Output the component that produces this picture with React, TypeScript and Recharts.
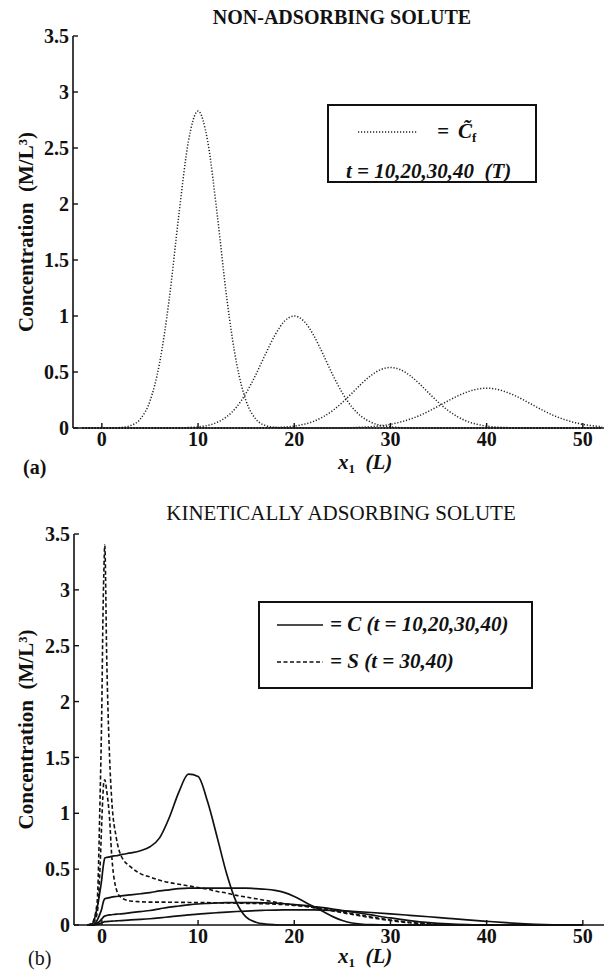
import React from "react";
import { LineChart, Line, XAxis, YAxis } from "recharts";

const FONT = '"Liberation Serif", "Times New Roman", Times, "Nimbus Roman", "DejaVu Serif", serif';
const INK = "#111";

const xTicks = [0, 10, 20, 30, 40, 50];
const yTicks = [0, 0.5, 1, 1.5, 2, 2.5, 3, 3.5];

// (a) non-adsorbing solute, C~f at t = 10, 20, 30, 40
const xA = [
  -2, -1, 0, 1, 2, 3, 4, 5, 6, 7, 8, 9, 10, 11, 12, 13, 14, 15, 16, 17, 18, 19, 20,
  21, 22, 23, 24, 25, 26, 27, 28, 29, 30, 31, 32, 33, 34, 35, 36, 37, 38, 39, 40,
  41, 42, 43, 44, 45, 46, 47, 48, 49, 50, 51, 52,
];
const cf10 = [
  0, 0, 0, 0.001, 0.005, 0.022, 0.08, 0.24, 0.58, 1.15, 1.9, 2.56, 2.83,
  2.56, 1.9, 1.15, 0.58, 0.24, 0.08, 0.022, 0.005, 0.001,
  0, 0, 0, 0, 0, 0, 0, 0, 0, 0, 0, 0, 0, 0, 0, 0, 0, 0, 0, 0, 0, 0, 0, 0, 0, 0, 0, 0, 0, 0, 0, 0, 0,
];
const cf20 = [
  0, 0, 0, 0, 0, 0, 0, 0, 0, 0,
  0.001, 0.004, 0.01, 0.023, 0.051, 0.102, 0.187, 0.313, 0.475, 0.658, 0.83, 0.955, 1.0,
  0.955, 0.83, 0.658, 0.475, 0.313, 0.187, 0.102, 0.051, 0.023, 0.01, 0.004, 0.001,
  0, 0, 0, 0, 0, 0, 0, 0, 0, 0, 0, 0, 0, 0, 0, 0, 0, 0, 0, 0,
];
const cf30 = [
  0, 0, 0, 0, 0, 0, 0, 0, 0, 0, 0, 0, 0, 0, 0, 0, 0, 0,
  0.001, 0.002, 0.004, 0.008, 0.017, 0.033, 0.059, 0.1, 0.156, 0.228, 0.311, 0.396, 0.47, 0.522, 0.54,
  0.522, 0.47, 0.396, 0.311, 0.228, 0.156, 0.1, 0.059, 0.033, 0.017, 0.008, 0.004, 0.002, 0.001,
  0, 0, 0, 0, 0, 0, 0, 0,
];
const cf40 = [
  0, 0, 0, 0, 0, 0, 0, 0, 0, 0, 0, 0, 0, 0, 0, 0, 0, 0, 0, 0, 0, 0, 0, 0, 0, 0, 0,
  0.001, 0.003, 0.007, 0.012, 0.02, 0.033, 0.052, 0.078, 0.11, 0.151, 0.196, 0.243, 0.287, 0.322, 0.347, 0.355,
  0.347, 0.322, 0.287, 0.243, 0.196, 0.151, 0.11, 0.078, 0.052, 0.033, 0.02, 0.012,
];

// (b) kinetically adsorbing solute
const xB = [
  -1.5, -1, -0.5, -0.2, 0, 0.1, 0.2, 0.3, 0.5, 0.8,
  1, 1.5, 2, 3, 4, 5, 6, 7, 8, 9,
  10, 11, 12, 13, 14, 15, 16, 17, 18, 19, 20, 21, 22, 23, 24, 25, 26,
  28, 30, 32, 34, 36, 38, 40, 42, 44, 46, 48, 50,
];
const c10 = [
  0, 0.01, 0.15, 0.3, 0.42, 0.5, 0.56, 0.6, 0.605, 0.61,
  0.615, 0.62, 0.63, 0.645, 0.665, 0.7, 0.78, 0.96, 1.19, 1.35,
  1.33, 1.1, 0.78, 0.45, 0.2, 0.07, 0.025, 0.008, 0.002, 0, 0, 0, 0, 0, 0, 0, 0,
  0, 0, 0, 0, 0, 0, 0, 0, 0, 0, 0, 0,
];
const c20 = [
  0, 0, 0.04, 0.1, 0.15, 0.19, 0.22, 0.235, 0.24, 0.245,
  0.25, 0.255, 0.26, 0.27, 0.28, 0.29, 0.305, 0.315, 0.325, 0.33,
  0.33, 0.33, 0.33, 0.33, 0.33, 0.33, 0.325, 0.32, 0.31, 0.29, 0.255, 0.21, 0.165, 0.12, 0.075, 0.04, 0.018,
  0.003, 0, 0, 0, 0, 0, 0, 0, 0, 0, 0, 0,
];
const c30 = [
  0, 0, 0.015, 0.035, 0.055, 0.065, 0.075, 0.08, 0.085, 0.09,
  0.092, 0.097, 0.1, 0.11, 0.12, 0.13, 0.145, 0.16, 0.17, 0.18,
  0.188, 0.193, 0.197, 0.2, 0.2, 0.2, 0.2, 0.198, 0.195, 0.19, 0.183, 0.175, 0.165, 0.155, 0.143, 0.13, 0.117,
  0.09, 0.063, 0.04, 0.022, 0.01, 0.003, 0, 0, 0, 0, 0, 0,
];
const c40 = [
  0, 0, 0.005, 0.012, 0.02, 0.024, 0.027, 0.03, 0.031, 0.033,
  0.034, 0.037, 0.04, 0.045, 0.05, 0.056, 0.064, 0.073, 0.082, 0.09,
  0.098, 0.104, 0.11, 0.116, 0.121, 0.125, 0.129, 0.132, 0.134, 0.135, 0.136, 0.136, 0.135, 0.133, 0.13, 0.126, 0.122,
  0.112, 0.1, 0.087, 0.074, 0.06, 0.046, 0.033, 0.021, 0.011, 0.004, 0.001, 0,
];
const s30 = [
  0, 0.02, 0.2, 1.1, 2.0, 2.7, 3.15, 3.4, 2.4, 1.5,
  1.15, 0.78, 0.62, 0.52, 0.46, 0.43, 0.4, 0.38, 0.365, 0.35,
  0.335, 0.32, 0.3, 0.285, 0.265, 0.25, 0.235, 0.22, 0.205, 0.19, 0.18, 0.17, 0.155, 0.14, 0.125, 0.11, 0.095,
  0.065, 0.04, 0.02, 0.008, 0.002, 0, 0, 0, 0, 0, 0, 0,
];
const s40 = [
  0, 0.01, 0.1, 0.5, 0.95, 1.15, 1.28, 1.3, 1.2, 0.95,
  0.65, 0.32, 0.245, 0.215, 0.208, 0.205, 0.205, 0.204, 0.203, 0.202,
  0.2, 0.2, 0.199, 0.198, 0.196, 0.194, 0.192, 0.19, 0.186, 0.182, 0.176, 0.168, 0.158, 0.146, 0.132, 0.117, 0.102,
  0.072, 0.045, 0.024, 0.01, 0.003, 0, 0, 0, 0, 0, 0, 0,
];

const pts = (xs: number[], ys: number[]) => xs.map((x, i) => ({ x, y: ys[i] }));

const tickFont = { fontFamily: FONT, fontSize: 20, fontWeight: 700, fill: INK };
const axisLine = { stroke: INK, strokeWidth: 1.6 };
const tickLine = { stroke: INK, strokeWidth: 1.4 };

const yLabel = (props: any) => {
  const vb = props.viewBox;
  const cx = vb.x + 26;
  const cy = vb.y + vb.height / 2;
  return (
    <text
      x={cx}
      y={cy}
      transform={`rotate(-90 ${cx} ${cy})`}
      textAnchor="middle"
      dominantBaseline="central"
      style={{ fontFamily: FONT, fontSize: 21, fontWeight: 700, fill: INK }}
    >
      Concentration{"\u00a0\u00a0"}(M/L³)
    </text>
  );
};

// box axes: labelled bottom/left, bare top/right with inward ticks
function frame(xDomain: number[], yW: number, xH: number) {
  return [
    <XAxis key="xb" xAxisId="b" type="number" dataKey="x" domain={xDomain} ticks={xTicks}
      allowDataOverflow interval={0} height={xH} tickSize={-5} tickMargin={9}
      tick={tickFont} axisLine={axisLine} tickLine={tickLine} />,
    <XAxis key="xt" xAxisId="t" orientation="top" type="number" dataKey="x" domain={xDomain}
      ticks={xTicks} allowDataOverflow interval={0} height={0} tickSize={-5} tick={false}
      axisLine={axisLine} tickLine={tickLine} />,
    <YAxis key="yl" yAxisId="l" type="number" domain={[0, 3.5]} ticks={yTicks} interval={0}
      width={yW} tickSize={-5} tickMargin={9} tick={tickFont} axisLine={axisLine}
      tickLine={tickLine} label={yLabel} />,
    <YAxis key="yr" yAxisId="r" orientation="right" type="number" domain={[0, 3.5]} ticks={yTicks}
      interval={0} width={0} tickSize={-5} tick={false} axisLine={axisLine} tickLine={tickLine} />,
  ];
}

const abs = (left: number, top: number): React.CSSProperties => ({
  position: "absolute",
  left,
  top,
  whiteSpace: "nowrap",
  lineHeight: 1,
  fontFamily: FONT,
  color: INK,
});

const sub = (t: string) => (
  <span style={{ fontSize: "0.62em", fontStyle: "normal", position: "relative", top: "0.3em" }}>{t}</span>
);

export default function App() {
  const topSeries = [cf10, cf20, cf30, cf40];
  const cSeries = [c10, c20, c30, c40];
  const sSeries = [s30, s40];

  return (
    <div style={{ position: "absolute", left: 0, top: 0, width: 605, height: 976, background: "#fff", overflow: "hidden" }}>
      <div style={{ ...abs(342, 17), transform: "translate(-50%, -50%)", fontSize: 20, fontWeight: 700 }}>
        NON-ADSORBING SOLUTE
      </div>

      <div style={{ position: "absolute", left: 0, top: 0 }}>
        <LineChart width={605} height={470} margin={{ top: 36, right: 1, bottom: 0, left: 0 }}>
          {frame([-3, 52.2], 73, 42)}
          {topSeries.map((s, i) => (
            <Line key={i} xAxisId="b" yAxisId="l" data={pts(xA, s)} dataKey="y" type="monotone"
              stroke="#222" strokeWidth={1.5} strokeDasharray="1.2 1.8" dot={false}
              activeDot={false} isAnimationActive={false} />
          ))}
        </LineChart>
      </div>

      <div style={{ ...abs(327, 104), width: 210, height: 79, boxSizing: "border-box", border: `2px solid ${INK}`, background: "#fff", fontSize: 21, fontWeight: 700, fontStyle: "italic" }}>
        <svg style={{ position: "absolute", left: 29, top: 24 }} width={60} height={4}>
          <line x1={0} y1={2} x2={60} y2={2} stroke="#222" strokeWidth={1.5} strokeDasharray="1.2 1.8" />
        </svg>
        <span style={{ position: "absolute", left: 108, top: 15 }}>
          =<span style={{ marginLeft: 9 }}>C&#771;</span>{sub("f")}
        </span>
        <span style={{ position: "absolute", left: 17, top: 55 }}>t = 10,20,30,40&nbsp; (T)</span>
      </div>

      <div style={{ ...abs(338, 452), fontSize: 21, fontWeight: 700, fontStyle: "italic" }}>
        x{sub("1")}&nbsp;&nbsp;(L)
      </div>
      <div style={{ ...abs(23, 457), fontSize: 20, fontWeight: 700 }}>(a)</div>

      <div style={{ ...abs(341, 513), transform: "translate(-50%, -50%)", fontSize: 21 }}>
        KINETICALLY ADSORBING SOLUTE
      </div>

      <div style={{ position: "absolute", left: 0, top: 490 }}>
        <LineChart width={605} height={476} margin={{ top: 44, right: 1, bottom: 0, left: 0 }}>
          {frame([-2.9, 52.2], 74, 41)}
          {sSeries.map((s, i) => (
            <Line key={"s" + i} xAxisId="b" yAxisId="l" data={pts(xB, s)} dataKey="y" type="monotone"
              stroke={INK} strokeWidth={1.6} strokeDasharray="4 2.5" dot={false}
              activeDot={false} isAnimationActive={false} />
          ))}
          {cSeries.map((s, i) => (
            <Line key={"c" + i} xAxisId="b" yAxisId="l" data={pts(xB, s)} dataKey="y" type="monotone"
              stroke={INK} strokeWidth={1.7} dot={false} activeDot={false} isAnimationActive={false} />
          ))}
        </LineChart>
      </div>

      <div style={{ ...abs(258, 601), width: 275, height: 88, boxSizing: "border-box", border: `2px solid ${INK}`, background: "#fff", fontSize: 21, fontWeight: 700, fontStyle: "italic" }}>
        <svg style={{ position: "absolute", left: 17, top: 20 }} width={46} height={4}>
          <line x1={0} y1={2} x2={46} y2={2} stroke={INK} strokeWidth={1.7} />
        </svg>
        <span style={{ position: "absolute", left: 70, top: 11 }}>= C (t = 10,20,30,40)</span>
        <svg style={{ position: "absolute", left: 17, top: 57 }} width={46} height={4}>
          <line x1={0} y1={2} x2={46} y2={2} stroke={INK} strokeWidth={1.6} strokeDasharray="4 2.5" />
        </svg>
        <span style={{ position: "absolute", left: 70, top: 48 }}>= S (t = 30,40)</span>
      </div>

      <div style={{ ...abs(338, 946), fontSize: 21, fontWeight: 700, fontStyle: "italic" }}>
        x{sub("1")}&nbsp;&nbsp;(L)
      </div>
      <div style={{ ...abs(28, 948), fontSize: 20 }}>(b)</div>
    </div>
  );
}
